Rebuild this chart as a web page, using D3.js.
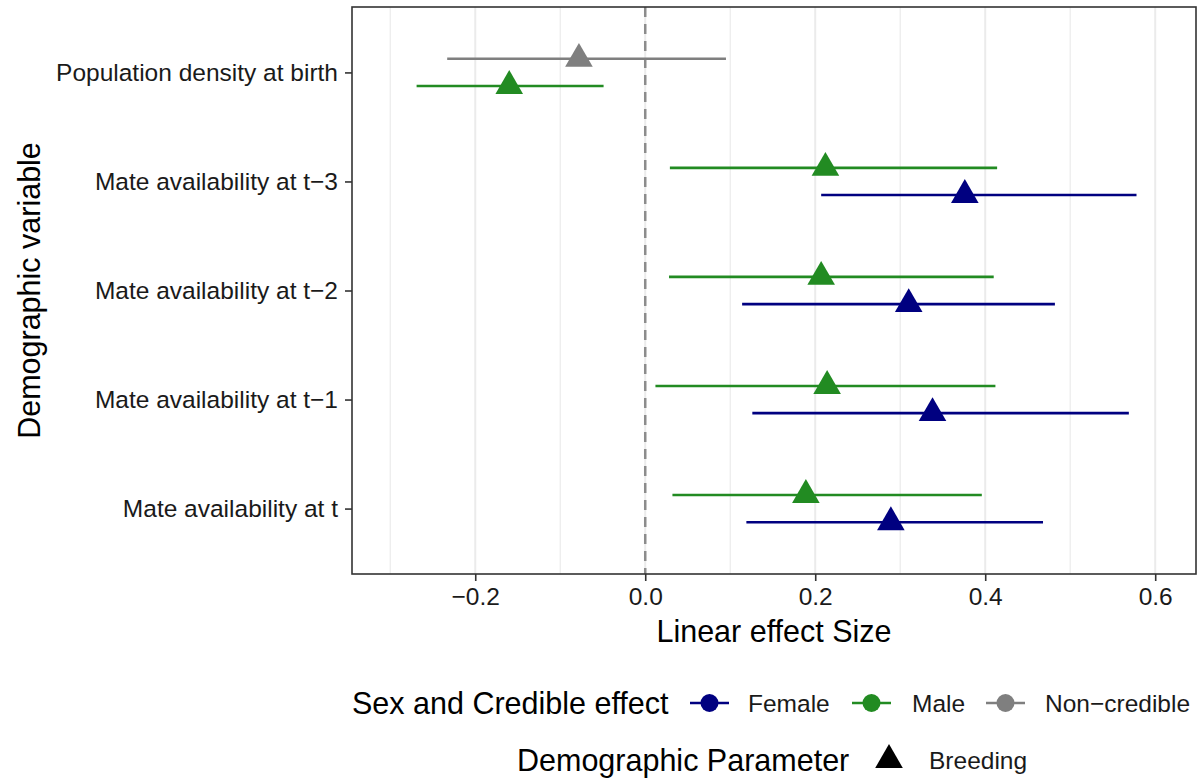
<!DOCTYPE html>
<meta charset="utf-8">
<title>Linear effect sizes of demographic variables</title>
<style type="text/css">
	body { margin: 0; background: #fff; }
	svg { font-family: "Liberation Sans", Arial, Helvetica, sans-serif; }
	.grid line { stroke: #ebebeb; }
	.tick-label { fill: #1a1a1a; font-size: 24.5px; }
	.axis-title { fill: #000; font-size: 30.5px; }
	.legend-title { fill: #000; font-size: 30.5px; }
	.legend-label { fill: #1a1a1a; font-size: 24.5px; }
</style>
<body>
<script src="https://d3js.org/d3.v7.min.js"></script>
<script type="text/javascript">
	// y categories, top to bottom
	const variables = [
		'Population density at birth',
		'Mate availability at t\u22123',
		'Mate availability at t\u22122',
		'Mate availability at t\u22121',
		'Mate availability at t'
	];

	// one entry per estimate; dodge -1 = upper, +1 = lower
	const pointVariable = [0, 0, 1, 1, 2, 2, 3, 3, 4, 4];
	const pointGroup = ['Non-credible', 'Male', 'Male', 'Female', 'Male', 'Female', 'Male', 'Female', 'Male', 'Female'];
	const pointDodge = [-1, 1, -1, 1, -1, 1, -1, 1, -1, 1];
	const estimate = [-0.078, -0.160, 0.212, 0.376, 0.207, 0.310, 0.214, 0.338, 0.189, 0.289];
	const lower = [-0.233, -0.269, 0.029, 0.207, 0.028, 0.114, 0.012, 0.126, 0.032, 0.119];
	const upper = [0.095, -0.049, 0.414, 0.578, 0.410, 0.482, 0.412, 0.569, 0.396, 0.468];

	const groups = ['Female', 'Male', 'Non-credible'];
	const groupLabels = ['Female', 'Male', 'Non\u2212credible'];
	const groupColors = ['#000080', '#228B22', '#7F7F7F'];
	const xTicks = [-0.2, 0.0, 0.2, 0.4, 0.6];
	const xMinorTicks = [-0.3, -0.1, 0.1, 0.3, 0.5];

	const width = 1203, height = 778;
	const panel = { left: 352, right: 1196, top: 7, bottom: 574 };

	const svg = d3.select('body').append('svg')
		.attr('width', width)
		.attr('height', height);

	const x = d3.scaleLinear()
		.domain([-0.345, 0.648])
		.range([panel.left, panel.right]);

	const y = d3.scalePoint()
		.domain(variables)
		.range([panel.top, panel.bottom])
		.padding(0.6);

	const color = d3.scaleOrdinal().domain(groups).range(groupColors);
	const dodge = 13.6;

	const points = estimate.map((d, i) => ({
		variable: variables[pointVariable[i]],
		group: pointGroup[i],
		dodge: pointDodge[i],
		est: d,
		lo: lower[i],
		hi: upper[i]
	}));

	// vertical gridlines
	const grid = svg.append('g').attr('class', 'grid');
	grid.selectAll('line.minor').data(xMinorTicks).enter().append('line')
		.attr('class', 'minor')
		.attr('x1', d => x(d)).attr('x2', d => x(d))
		.attr('y1', panel.top).attr('y2', panel.bottom)
		.attr('stroke-width', 1.2);
	grid.selectAll('line.major').data(xTicks).enter().append('line')
		.attr('class', 'major')
		.attr('x1', d => x(d)).attr('x2', d => x(d))
		.attr('y1', panel.top).attr('y2', panel.bottom)
		.attr('stroke-width', 2);

	// zero line
	svg.append('line')
		.attr('x1', x(0)).attr('x2', x(0))
		.attr('y1', panel.top).attr('y2', panel.bottom)
		.attr('stroke', '#8c8c8c')
		.attr('stroke-width', 2.5)
		.attr('stroke-dasharray', '10,7');

	// error bars
	svg.append('g').selectAll('line').data(points).enter().append('line')
		.attr('x1', d => x(d.lo)).attr('x2', d => x(d.hi))
		.attr('y1', d => y(d.variable) + d.dodge * dodge)
		.attr('y2', d => y(d.variable) + d.dodge * dodge)
		.attr('stroke', d => color(d.group))
		.attr('stroke-width', 2.6);

	// triangles
	const tri = d3.symbol().type(d3.symbolTriangle).size(330);
	svg.append('g').selectAll('path').data(points).enter().append('path')
		.attr('d', tri)
		.attr('transform', d => `translate(${x(d.est)},${y(d.variable) + d.dodge * dodge})`)
		.attr('fill', d => color(d.group));

	// panel border
	svg.append('rect')
		.attr('x', panel.left).attr('y', panel.top)
		.attr('width', panel.right - panel.left)
		.attr('height', panel.bottom - panel.top)
		.attr('fill', 'none')
		.attr('stroke', '#333')
		.attr('stroke-width', 1.6);

	// x axis
	const xAxis = svg.append('g')
		.attr('transform', `translate(0,${panel.bottom})`)
		.call(d3.axisBottom(x).tickValues(xTicks).tickSize(7)
			.tickFormat(d => d3.format('.1f')(d).replace('-', '\u2212')));
	xAxis.select('.domain').remove();
	xAxis.selectAll('.tick line').attr('stroke', '#333').attr('stroke-width', 1.6);
	xAxis.selectAll('.tick text')
		.attr('class', 'tick-label').attr('font-family', null).attr('font-size', null)
		.attr('y', 31).attr('dy', null);

	// y axis
	const yAxis = svg.append('g')
		.attr('transform', `translate(${panel.left},0)`)
		.call(d3.axisLeft(y).tickSize(7).tickPadding(7));
	yAxis.select('.domain').remove();
	yAxis.selectAll('.tick line').attr('stroke', '#333').attr('stroke-width', 1.6);
	yAxis.selectAll('.tick text').attr('class', 'tick-label').attr('font-family', null).attr('font-size', null);

	// axis titles
	svg.append('text')
		.attr('class', 'axis-title')
		.attr('x', (panel.left + panel.right) / 2)
		.attr('y', 642)
		.attr('text-anchor', 'middle')
		.text('Linear effect Size');

	svg.append('text')
		.attr('class', 'axis-title')
		.attr('transform', `translate(40,${(panel.top + panel.bottom) / 2}) rotate(-90)`)
		.attr('text-anchor', 'middle')
		.text('Demographic variable');

	// legend: colour
	const leg1 = svg.append('g').attr('transform', 'translate(0,703)');
	leg1.append('text')
		.attr('class', 'legend-title')
		.attr('x', 352).attr('dy', '0.35em')
		.text('Sex and Credible effect');
	const keyX = [690, 852, 986];
	const labelX = [748, 912, 1045];
	groups.forEach((g, i) => {
		leg1.append('line')
			.attr('x1', keyX[i]).attr('x2', keyX[i] + 39)
			.attr('stroke', color(g)).attr('stroke-width', 2.6);
		leg1.append('circle')
			.attr('cx', keyX[i] + 19.5).attr('r', 9)
			.attr('fill', color(g));
		leg1.append('text')
			.attr('class', 'legend-label')
			.attr('x', labelX[i]).attr('dy', '0.35em')
			.text(groupLabels[i]);
	});

	// legend: shape
	const leg2 = svg.append('g').attr('transform', 'translate(0,760)');
	leg2.append('text')
		.attr('class', 'legend-title')
		.attr('x', 517).attr('dy', '0.35em')
		.text('Demographic Parameter');
	leg2.append('path')
		.attr('d', tri)
		.attr('transform', 'translate(889,0)')
		.attr('fill', '#000');
	leg2.append('text')
		.attr('class', 'legend-label')
		.attr('x', 929).attr('dy', '0.35em')
		.text('Breeding');
</script>
</body>
